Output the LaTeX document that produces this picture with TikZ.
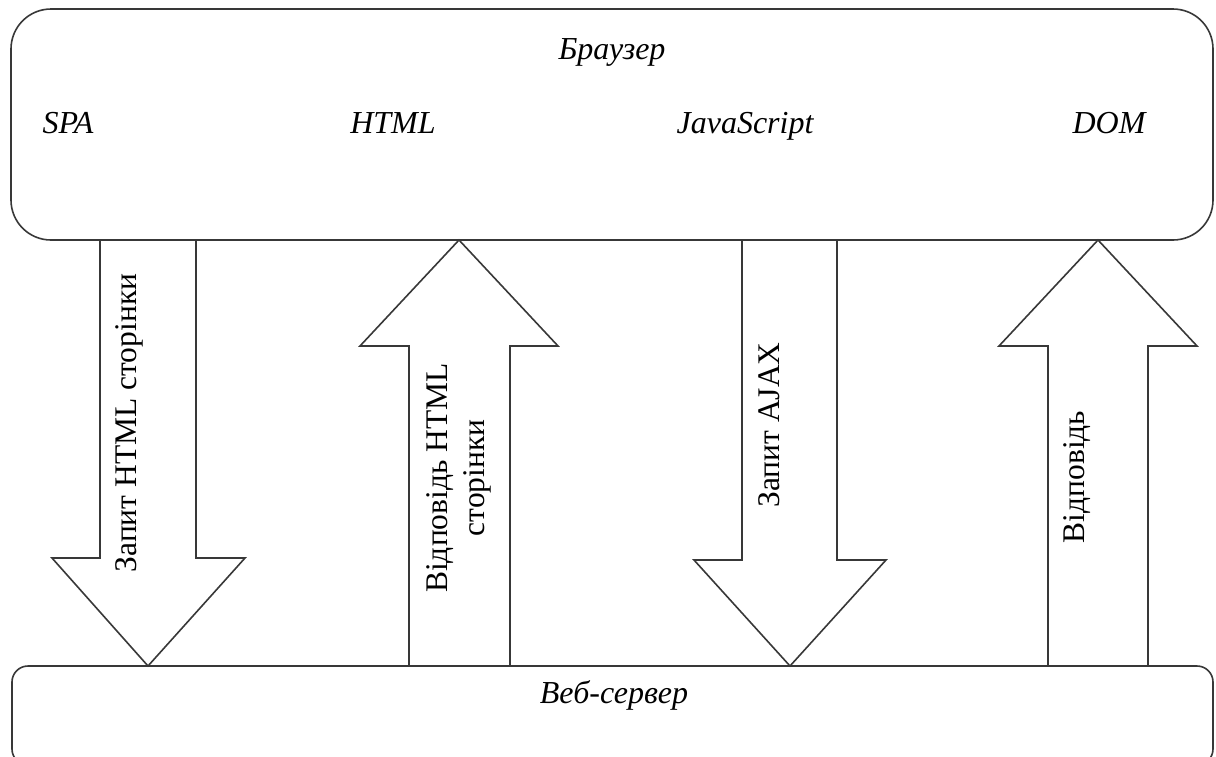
\documentclass[tikz,border=0pt]{standalone}
\usepackage{fontspec}
\setmainfont{Liberation Serif}
\begin{document}
\begin{tikzpicture}[x=1pt,y=-1pt,
  outline/.style={draw=black!78,line width=1.6pt},
  panel/.style={outline,fill=white,rounded corners=#1},
  bigarrow/.style={outline,fill=white,line join=miter},
  label/.style={font=\fontsize{32}{36}\selectfont\itshape,anchor=base,inner sep=0pt},
  vlabel/.style={font=\fontsize{31.5}{37}\selectfont,rotate=90,inner sep=0pt,align=center}]
\useasboundingbox (0,0) rectangle (1216,756);
\clip (0,0) rectangle (1216,756);

% browser and web server panels
\draw[panel=40pt] (11,9) rectangle (1213,240);
\draw[panel=16pt] (12,666) rectangle (1213,765);

% block arrows between the panels
\draw[bigarrow] (100,240) -- (196,240) -- (196,558) -- (245,558) -- (148,666)
  -- (52,558) -- (100,558) -- cycle;
\draw[bigarrow] (409,666) -- (510,666) -- (510,346) -- (558,346) -- (459,240)
  -- (360,346) -- (409,346) -- cycle;
\draw[bigarrow] (742,240) -- (837,240) -- (837,560) -- (886,560) -- (790,666)
  -- (694,560) -- (742,560) -- cycle;
\draw[bigarrow] (1048,666) -- (1148,666) -- (1148,346) -- (1197,346) -- (1098,240)
  -- (999,346) -- (1048,346) -- cycle;

% labels
\node[label] (br) at (612,59) {Браузер};
\node[label] (spa) at (68,133) {SPA};
\node[label] (html) at (393,133) {HTML};
\node[label] (js) at (745,133) {JavaScript};
\node[label] (dom) at (1109,133) {DOM};
\node[label] (ws) at (614,703) {Веб-сервер};

\node[vlabel] (q1) at (129,423) {Запит HTML сторінки};
\node[vlabel] (a1) at (459,478) {Відповідь HTML\\сторінки};
\node[vlabel] (q2) at (769,425) {Запит AJAX};
\node[vlabel] (a2) at (1077,477) {Відповідь};
\end{tikzpicture}
\end{document}
